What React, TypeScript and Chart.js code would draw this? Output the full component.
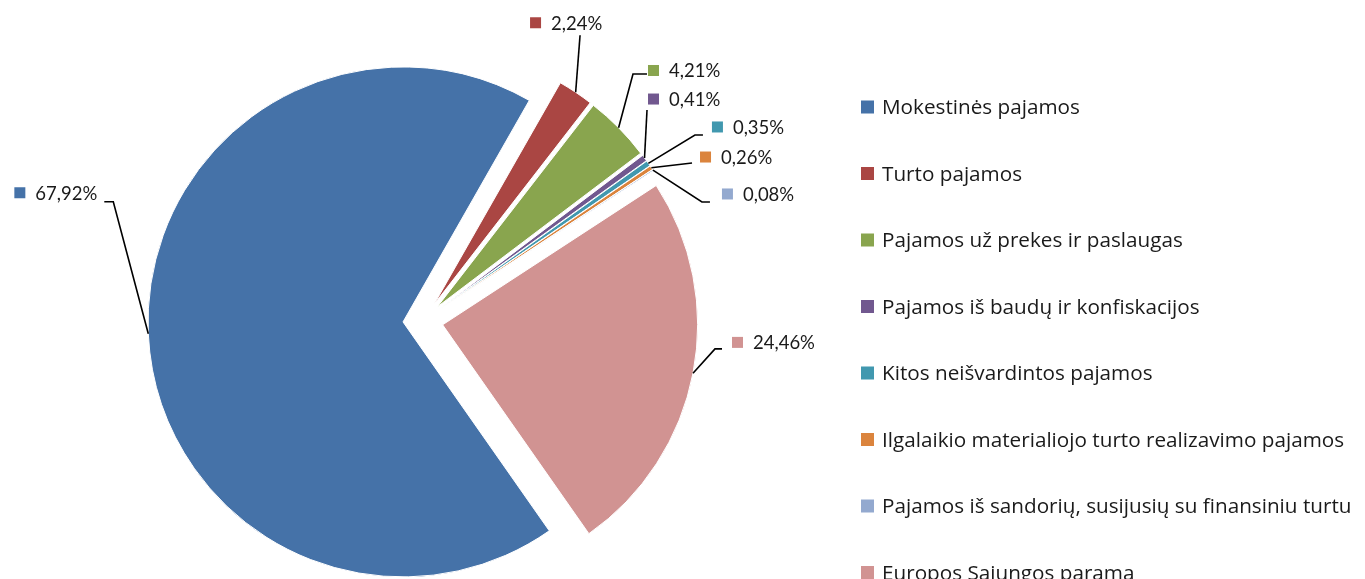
import React, { useEffect, useRef } from "react";
import { Chart, registerables } from "chart.js";

Chart.register(...registerables);

const CATEGORIES: string[] = [
  "Mokestinės pajamos",
  "Turto pajamos",
  "Pajamos už prekes ir paslaugas",
  "Pajamos iš baudų ir konfiskacijos",
  "Kitos neišvardintos pajamos",
  "Ilgalaikio materialiojo turto realizavimo pajamos",
  "Pajamos iš sandorių, susijusių su finansiniu turtu",
  "Europos Sąjungos parama",
];

const SHARES: number[] = [67.92, 2.24, 4.21, 0.41, 0.35, 0.26, 0.08, 24.46];

const COLORS: string[] = [
  "#4572A8",
  "#AA4643",
  "#89A54E",
  "#71588F",
  "#4198AF",
  "#DB843D",
  "#93A9CF",
  "#D19392",
];

// Label leader layout: [elbowDx, elbowDy, stub, squareDx, squareDy, alignLeft]
// elbow is relative to the slice's outer-edge anchor; square relative to stub end.
const LABEL_LAYOUT: [number, number, number, number, number, boolean][] = [
  [-35, -132, -9, -7, -9, true],
  [4.4, -57, 0, -50, -12.5, false],
  [14.4, -53.7, 14, 1, -3.5, false],
  [2.5, -48, 0, 1, -11, false],
  [46.6, -28.4, 8, 9, -8, false],
  [40.7, -4.7, 0, 8, -6, false],
  [49, 31.8, 8, 12, -8, false],
  [22, -24.3, 7, 10, -6.5, false],
];

const EXPLODE = 20;
const LABEL_FONT = "18.5px Lato";
const LEGEND_FONT = "20.7px 'Open Sans'";
const LEGEND_X = 861;
const LEGEND_TOP = 107;
const LEGEND_STEP = 66.5;

const fmt = (v: number) => v.toFixed(2).replace(".", ",") + "%";

const explodePlugin = {
  id: "explode",
  afterDatasetsUpdate(chart: any) {
    const meta = chart.getDatasetMeta(0);
    meta.data.forEach((arc: any) => {
      const mid = (arc.startAngle + arc.endAngle) / 2;
      arc.x += Math.cos(mid) * EXPLODE;
      arc.y += Math.sin(mid) * EXPLODE;
    });
  },
};

const labelPlugin = {
  id: "leaderLabels",
  afterDatasetsDraw(chart: any) {
    const ctx: CanvasRenderingContext2D = chart.ctx;
    const meta = chart.getDatasetMeta(0);
    ctx.save();
    ctx.font = LABEL_FONT;
    meta.data.forEach((arc: any, i: number) => {
      const mid = (arc.startAngle + arc.endAngle) / 2;
      const ax = arc.x + Math.cos(mid) * arc.outerRadius;
      const ay = arc.y + Math.sin(mid) * arc.outerRadius;
      const [edx, edy, stub, sdx, sdy, left] = LABEL_LAYOUT[i];
      const ex = ax + edx;
      const ey = ay + edy;
      const tx = ex + stub;
      const ty = ey;
      ctx.strokeStyle = "#000";
      ctx.lineWidth = 1.6;
      ctx.beginPath();
      ctx.moveTo(ax, ay);
      ctx.lineTo(ex, ey);
      if (stub !== 0) ctx.lineTo(tx, ty);
      ctx.stroke();

      const text = fmt(SHARES[i]);
      const tw = ctx.measureText(text).width;
      const sq = 11;
      const gap = 10;
      let sqLeft: number;
      if (left) {
        sqLeft = tx + sdx - tw - gap - sq;
      } else {
        sqLeft = tx + sdx;
      }
      const cy = ty + sdy;
      ctx.fillStyle = COLORS[i];
      ctx.fillRect(sqLeft, cy - sq / 2, sq, sq);
      ctx.fillStyle = "#1a1a1a";
      ctx.textBaseline = "alphabetic";
      ctx.textAlign = "left";
      ctx.fillText(text, sqLeft + sq + gap, cy + 7);
    });
    ctx.restore();
  },
};

const legendPlugin = {
  id: "sideLegend",
  afterDraw(chart: any) {
    const ctx: CanvasRenderingContext2D = chart.ctx;
    ctx.save();
    ctx.font = LEGEND_FONT;
    ctx.textBaseline = "alphabetic";
    ctx.textAlign = "left";
    CATEGORIES.forEach((label, i) => {
      const cy = LEGEND_TOP + i * LEGEND_STEP;
      const sq = 13;
      ctx.fillStyle = COLORS[i];
      ctx.fillRect(LEGEND_X, cy - sq / 2, sq, sq);
      ctx.fillStyle = "#1a1a1a";
      ctx.fillText(label, LEGEND_X + 21, cy + 7);
    });
    ctx.restore();
  },
};

export default function App() {
  const ref = useRef<HTMLCanvasElement | null>(null);
  useEffect(() => {
    if (!ref.current) return;
    const chart = new Chart(ref.current, {
      type: "pie",
      data: {
        labels: CATEGORIES,
        datasets: [
          {
            data: SHARES,
            backgroundColor: COLORS,
            borderColor: "#ffffff",
            borderWidth: 1,
          },
        ],
      },
      options: {
        responsive: false,
        animation: false,
        rotation: 145,
        radius: 255,
        layout: { padding: { left: 0, right: 519, top: 63, bottom: 0 } },
        plugins: {
          legend: { display: false },
          tooltip: { enabled: false },
        },
      } as any,
      plugins: [explodePlugin, labelPlugin, legendPlugin],
    });
    return () => chart.destroy();
  }, []);
  return (
    <div style={{ position: "absolute", left: 0, top: 0, width: 1365, height: 579, background: "#fff" }}>
      <canvas ref={ref} width={1365} height={579} style={{ display: "block" }} />
    </div>
  );
}
